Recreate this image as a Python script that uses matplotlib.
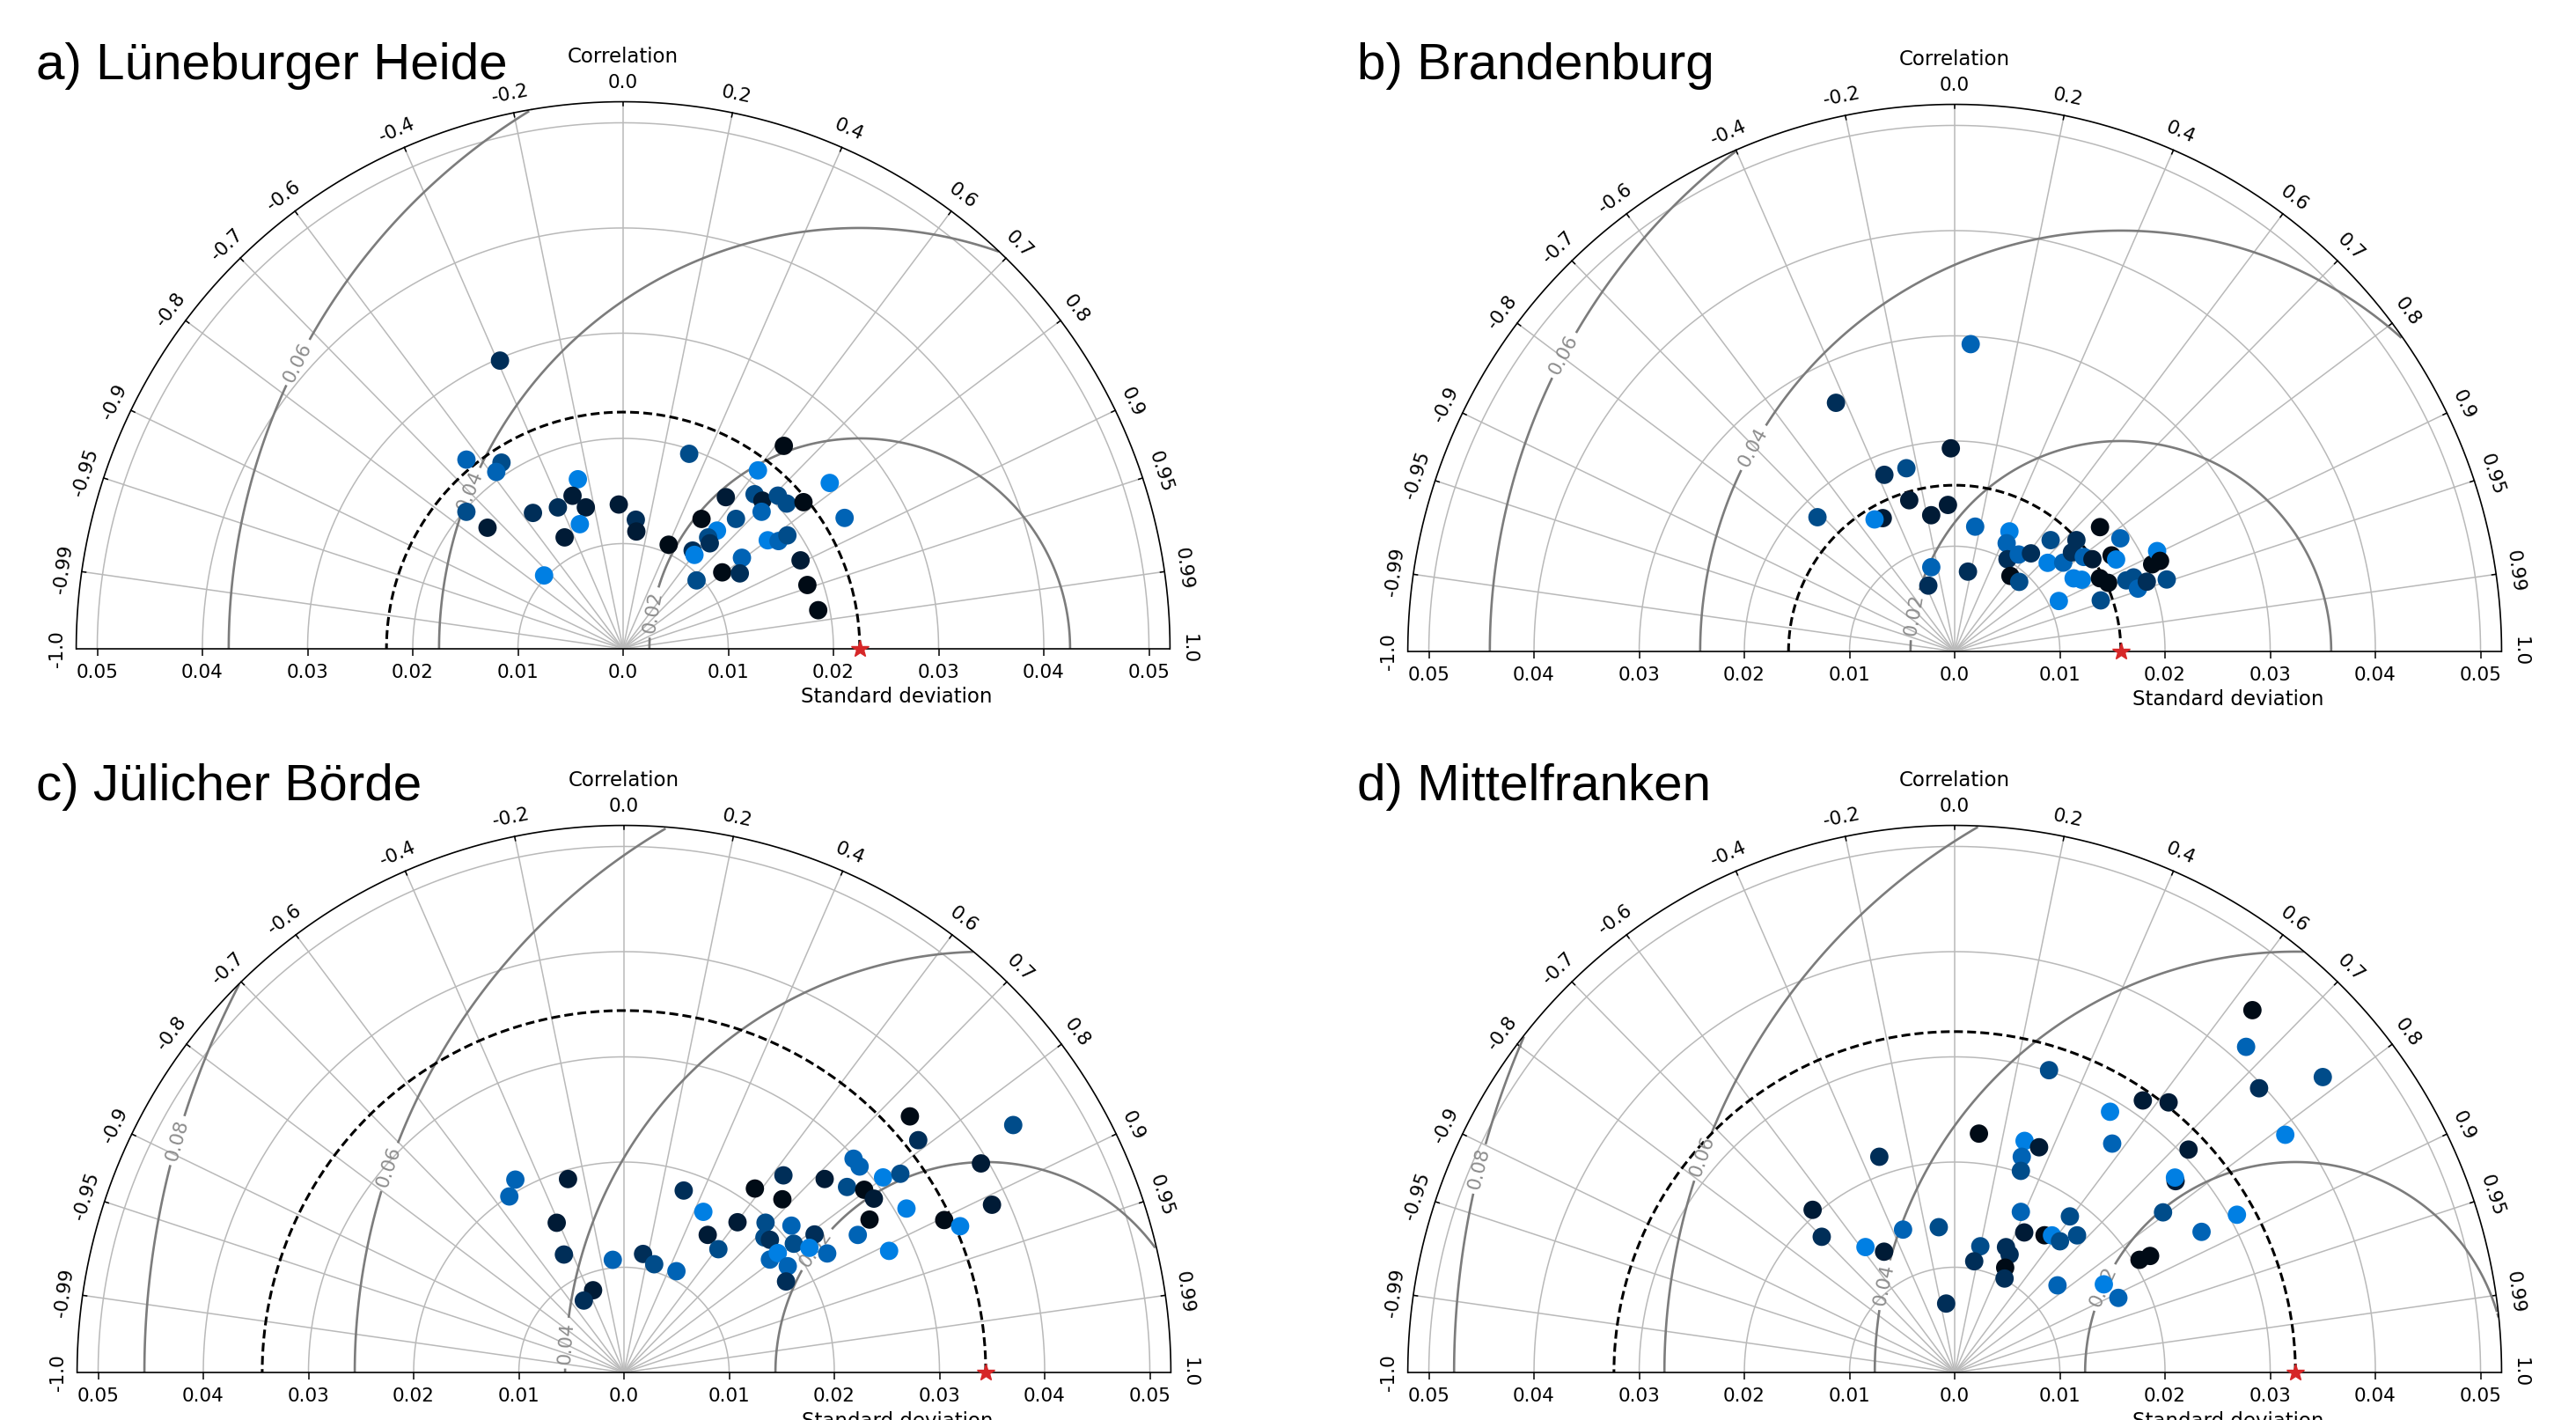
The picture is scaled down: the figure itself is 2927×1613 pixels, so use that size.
import numpy as np
import matplotlib.pyplot as plt

# panel titles, reference standard deviation and RMSD contour levels
titles = ['a) Lüneburger Heide', 'b) Brandenburg', 'c) Jülicher Börde', 'd) Mittelfranken']
ref_std = [0.0225, 0.0158, 0.0344, 0.0324]
rms_levels = [[0.02, 0.04, 0.06], [0.02, 0.04, 0.06],
              [0.02, 0.04, 0.06, 0.08], [0.02, 0.04, 0.06, 0.08]]

# correlation ticks on the outer arc
corr_ticks = [-1.0, -0.99, -0.95, -0.9, -0.8, -0.7, -0.6, -0.4, -0.2, 0.0,
              0.2, 0.4, 0.6, 0.7, 0.8, 0.9, 0.95, 0.99, 1.0]
corr_labels = ['-1.0', '-0.99', '-0.95', '-0.9', '-0.8', '-0.7', '-0.6', '-0.4', '-0.2', '0.0',
               '0.2', '0.4', '0.6', '0.7', '0.8', '0.9', '0.95', '0.99', '1.0']
std_ticks = [-0.05, -0.04, -0.03, -0.02, -0.01, 0.0, 0.01, 0.02, 0.03, 0.04, 0.05]
std_labels = ['0.05', '0.04', '0.03', '0.02', '0.01', '0.0', '0.01', '0.02', '0.03', '0.04', '0.05']

# point colours (dark -> bright blue)
shades = ['#000b16', '#001b36', '#002e58', '#004c8a', '#0063b5', '#007fe3']

# a) Lüneburger Heide
std_a = [0.02979, 0.02335, 0.02114, 0.02069, 0.01668, 0.01532, 0.01390, 0.01480, 0.01550, 0.01979,
         0.01728, 0.01254, 0.01196, 0.01372, 0.01233, 0.01122, 0.01025, 0.01957, 0.02461, 0.02126,
         0.01741, 0.01929, 0.01933, 0.02070, 0.02080, 0.02210, 0.02519, 0.02446, 0.01852, 0.01636,
         0.01442, 0.01435, 0.01332, 0.01298, 0.01144, 0.01121, 0.01080, 0.01719, 0.01798, 0.01898,
         0.01423, 0.01190, 0.01321, 0.00954, 0.01885, 0.01854, 0.01891]
corr_a = [-0.393, -0.638, -0.547, -0.583, -0.258, -0.314, -0.255, -0.419, -0.553, -0.753,
          -0.746, -0.328, -0.465, -0.030, 0.098, 0.112, -0.733, 0.321, 0.621, 0.603,
          0.561, 0.648, 0.685, 0.711, 0.748, 0.776, 0.780, 0.861, 0.711, 0.656,
          0.517, 0.622, 0.607, 0.635, 0.578, 0.605, 0.401, 0.800, 0.822, 0.823,
          0.794, 0.792, 0.840, 0.732, 0.895, 0.945, 0.981]
col_a = [2, 4, 3, 4, 5, 1, 1, 2, 2, 3, 1, 5, 1, 1, 2, 1, 5, 3, 0, 5, 1, 3, 1, 3, 3, 0, 5, 4, 4, 3,
         0, 5, 3, 2, 2, 5, 0, 5, 4, 3, 4, 0, 2, 3, 1, 0, 0]

# b) Brandenburg
std_b = [0.02925, 0.02619, 0.01931, 0.01807, 0.01801, 0.01501, 0.01394, 0.01314, 0.01825, 0.01440,
         0.01468, 0.01202, 0.00831, 0.00674, 0.00769, 0.01254, 0.01141, 0.01010, 0.01104, 0.01181,
         0.00892, 0.00902, 0.01397, 0.01221, 0.01333, 0.01568, 0.01459, 0.01521, 0.01576, 0.01818,
         0.01907, 0.01749, 0.01766, 0.01327, 0.01387, 0.01546, 0.01598, 0.01766, 0.01840, 0.01842,
         0.01943, 0.02052, 0.02148, 0.02129, 0.01100, 0.01471, 0.02134]
corr_b = [0.052, -0.431, -0.019, -0.370, -0.255, -0.288, -0.046, -0.170, -0.715, -0.475,
          -0.519, 0.162, -0.268, -0.372, 0.164, 0.415, 0.433, 0.497, 0.551, 0.614,
          0.594, 0.680, 0.653, 0.724, 0.774, 0.738, 0.764, 0.807, 0.831, 0.760,
          0.826, 0.853, 0.869, 0.852, 0.871, 0.893, 0.913, 0.924, 0.924, 0.946,
          0.940, 0.915, 0.896, 0.947, 0.900, 0.944, 0.915]
col_b = [4, 2, 1, 2, 3, 1, 1, 1, 3, 1, 5, 4, 4, 2, 2, 5, 4, 2, 4, 2, 0, 3, 3, 5, 4, 2, 2, 4, 1, 0,
         4, 0, 5, 5, 5, 0, 0, 3, 3, 4, 2, 0, 5, 3, 5, 3, 0]

# c) Jülicher Börde
std_c = [0.02104, 0.01997, 0.01914, 0.01560, 0.01258, 0.01820, 0.01703, 0.01531, 0.01790, 0.02146,
         0.02410, 0.02231, 0.01076, 0.01141, 0.01068, 0.01084, 0.01476, 0.01959, 0.01852, 0.01875,
         0.02117, 0.02237, 0.02026, 0.02124, 0.02239, 0.01754, 0.01851, 0.01856, 0.01767, 0.02650,
         0.02758, 0.02982, 0.02975, 0.02869, 0.02894, 0.02750, 0.03083, 0.03236, 0.02579, 0.03105,
         0.02773, 0.03649, 0.03564, 0.03372, 0.03485, 0.03933, 0.03845, 0.04385, 0.00835, 0.00783]
corr_c = [-0.491, -0.546, -0.278, -0.410, -0.454, 0.312, 0.443, 0.520, 0.603, 0.580,
          0.629, 0.675, -0.099, 0.159, 0.269, 0.460, 0.608, 0.687, 0.721, 0.740,
          0.752, 0.810, 0.797, 0.830, 0.863, 0.791, 0.790, 0.839, 0.872, 0.720,
          0.769, 0.732, 0.753, 0.796, 0.821, 0.849, 0.799, 0.812, 0.862, 0.865,
          0.909, 0.745, 0.785, 0.903, 0.917, 0.863, 0.910, 0.844, -0.352, -0.488]
col_c = [4, 4, 1, 1, 2, 2, 5, 1, 1, 0, 2, 0, 4, 2, 3, 4, 3, 3, 3, 2, 4, 2, 3, 5, 4, 4, 5, 4, 2, 1,
         3, 4, 4, 0, 1, 0, 5, 3, 4, 5, 5, 0, 2, 0, 5, 1, 1, 3, 1, 2]

# d) Mittelfranken
std_d = [0.04458, 0.04154, 0.03959, 0.04487, 0.03871, 0.03010, 0.03144, 0.03275, 0.02885, 0.02641,
         0.03071, 0.02778, 0.02796, 0.02498, 0.03074, 0.02701, 0.02282, 0.02299, 0.02286, 0.02147,
         0.02017, 0.02172, 0.02053, 0.01806, 0.01463, 0.01330, 0.01444, 0.01389, 0.00660, 0.01651,
         0.01486, 0.01559, 0.01598, 0.01599, 0.01844, 0.01747, 0.01224, 0.01073, 0.01287, 0.01237,
         0.01106, 0.01011, 0.01281, 0.01647, 0.01710, 0.02058, 0.02163]
corr_d = [0.635, 0.667, 0.731, 0.780, 0.812, 0.298, 0.569, 0.621, 0.512, 0.567,
          0.724, 0.756, 0.749, 0.793, 0.873, 0.869, 0.101, 0.289, 0.351, 0.297,
          0.312, -0.330, -0.658, -0.700, -0.580, -0.505, -0.340, -0.109, -0.123, 0.381,
          0.445, 0.548, 0.579, 0.626, 0.594, 0.666, 0.199, 0.173, 0.379, 0.422,
          0.434, 0.469, 0.763, 0.861, 0.910, 0.854, 0.859]
col_d = [0, 4, 2, 3, 5, 3, 1, 1, 5, 4, 1, 1, 5, 3, 5, 4, 0, 5, 1, 4, 3, 2, 1, 2, 5, 1, 4, 3, 2, 4,
         1, 0, 5, 3, 3, 3, 3, 2, 2, 2, 0, 2, 4, 5, 4, 0, 0]

all_std = [std_a, std_b, std_c, std_d]
all_corr = [corr_a, corr_b, corr_c, corr_d]
all_col = [col_a, col_b, col_c, col_d]

# layout (pixels of the 2927x1613 figure)
W, H = 2927, 1613
R = 0.052          # outer radius of the diagrams
PX = 11950         # pixels per unit of standard deviation
origins = [(708, 737), (2221, 740), (709, 1559), (2221, 1559)]
title_pos = [(41, 90), (1542, 90), (41, 909), (1542, 909)]
# angle (deg, around the reference point) where each contour label sits
label_angles = [[170, 158, 153], [170, 151, 152], [144, 176, 161, 164], [156, 168, 160, 166]]

fig = plt.figure(figsize=(29.2705, 16.1305), dpi=100)
t = np.linspace(0, np.pi, 500)

for i in range(4):
    ox, oy = origins[i]
    ax = fig.add_axes([(ox - R * PX) / W, (H - oy) / H, 2 * R * PX / W, R * PX / H])
    ax.set_xlim(-R, R)
    ax.set_ylim(0, R)
    for side in ['top', 'left', 'right']:
        ax.spines[side].set_visible(False)
    ax.spines['bottom'].set_linewidth(1.2)
    ax.set_yticks([])
    ax.set_xticks(std_ticks)
    ax.set_xticklabels(std_labels)
    ax.tick_params(axis='x', direction='out', length=5.5, width=1.1, labelsize=15.5, pad=7)

    # std grid arcs and correlation rays
    for s in [0.01, 0.02, 0.03, 0.04, 0.05]:
        ax.plot(s * np.cos(t), s * np.sin(t), color='#b9b9b9', lw=1.1, zorder=1)
    for c, lab in zip(corr_ticks, corr_labels):
        th = np.arccos(c)
        if abs(c) < 1:
            ax.plot([0, R * np.cos(th)], [0, R * np.sin(th)], color='#b9b9b9', lw=1.1, zorder=1)
            ax.plot([R * np.cos(th), (R - 0.0004) * np.cos(th)],
                    [R * np.sin(th), (R - 0.0004) * np.sin(th)], color='black', lw=1.1)
        rl = R + 0.0018
        ax.text(rl * np.cos(th), rl * np.sin(th), lab, rotation=np.degrees(th) - 90,
                rotation_mode='anchor', ha='center', va='center', fontsize=15.5, clip_on=False)

    # outer boundary
    ax.plot(R * np.cos(t), R * np.sin(t), color='black', lw=1.2, clip_on=False, zorder=3)

    # RMSD contours around the reference
    ref = ref_std[i]
    xg = np.linspace(-R, R, 700)
    yg = np.linspace(0, R, 350)
    X, Y = np.meshgrid(xg, yg)
    D = np.sqrt((X - ref) ** 2 + Y ** 2)
    D[X ** 2 + Y ** 2 > R ** 2] = np.nan
    cs = ax.contour(X, Y, D, levels=rms_levels[i], colors='#7c7c7c', linewidths=1.9, zorder=2)
    manual = [(ref + L * np.cos(np.radians(a)), L * np.sin(np.radians(a)))
              for L, a in zip(rms_levels[i], label_angles[i])]
    ax.clabel(cs, inline=True, fontsize=15.5, fmt='%.2f', manual=manual, colors='#8c8c8c')

    # reference std arc and star
    ax.plot(ref * np.cos(t), ref * np.sin(t), color='black', lw=2.2, dashes=(3.3, 1.6), zorder=3)
    ax.plot(ref, 0, marker='*', color='#d62728', ms=15, clip_on=False, zorder=6)

    # model points
    st = np.array(all_std[i])
    cr = np.array(all_corr[i])
    ax.scatter(st * cr, st * np.sqrt(1 - cr ** 2), s=225, c=[shades[k] for k in all_col[i]],
               edgecolors='none', zorder=5)

    ax.text(0, 0.0563, 'Correlation', ha='center', va='center', fontsize=16.5, clip_on=False)
    ax.text(0.026, -0.0046, 'Standard deviation', ha='center', va='center', fontsize=16.5,
            clip_on=False)

    tx, ty = title_pos[i]
    fig.text(tx / W, 1 - ty / H, titles[i], fontsize=42, family='Liberation Sans',
             ha='left', va='baseline')

fig.savefig('out.png', dpi=100)
